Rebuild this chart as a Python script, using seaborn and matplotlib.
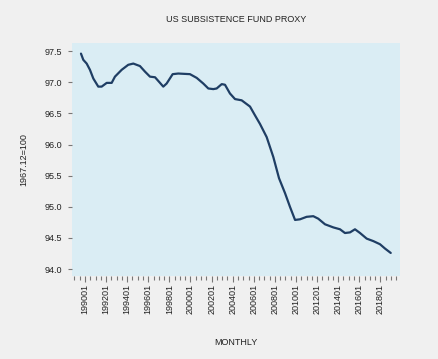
import numpy as np
import pandas as pd
import matplotlib
matplotlib.use("Agg")
import matplotlib.pyplot as plt
import seaborn as sns
from matplotlib.ticker import FixedLocator, MultipleLocator

# Data (fractional year, index value)
years = [1989.62, 1989.84, 1990.16, 1990.47, 1990.79, 1991.26, 1991.58, 1992.06, 1992.53, 1992.84,
         1993.48, 1994.10, 1994.58, 1995.21, 1995.69, 1996.16, 1996.64, 1997.11, 1997.42, 1997.74,
         1998.31, 1998.84, 1999.95, 2000.59, 2001.21, 2001.69, 2002.16, 2002.48, 2002.96, 2003.27,
         2003.74, 2004.22, 2004.85, 2005.64, 2006.11, 2006.59, 2007.22, 2007.85, 2008.39, 2008.96,
         2009.43, 2009.91, 2010.38, 2011.01, 2011.64, 2012.11, 2012.75, 2013.54, 2014.17, 2014.64,
         2015.12, 2015.59, 2016.07, 2016.70, 2017.33, 2017.96, 2018.44, 2018.98]
values = [97.46, 97.36, 97.30, 97.20, 97.06, 96.93, 96.93, 96.99, 96.99, 97.09,
          97.20, 97.28, 97.30, 97.26, 97.17, 97.09, 97.08, 96.99, 96.93, 96.98,
          97.13, 97.14, 97.13, 97.07, 96.98, 96.90, 96.89, 96.90, 96.97, 96.96,
          96.82, 96.73, 96.71, 96.61, 96.47, 96.33, 96.12, 95.80, 95.46, 95.22,
          95.00, 94.79, 94.80, 94.84, 94.85, 94.81, 94.72, 94.67, 94.64, 94.58,
          94.59, 94.64, 94.58, 94.49, 94.45, 94.40, 94.33, 94.26]
xtick_years = [1990, 1992, 1994, 1996, 1998, 2000, 2002, 2004, 2006, 2008,
               2010, 2012, 2014, 2016, 2018]
xtick_labels = ["199001", "199201", "199401", "199601", "199801", "200001", "200201",
                "200401", "200601", "200801", "201001", "201201", "201401", "201601", "201801"]
yticks = [94.0, 94.5, 95.0, 95.5, 96.0, 96.5, 97.0, 97.5]

df = pd.DataFrame({"year": years, "value": values})

sns.set_style("white")
plt.rcParams['font.family'] = ['Liberation Sans', 'DejaVu Sans']
plt.rcParams['xtick.minor.visible'] = True

fig = plt.figure(figsize=(4.38, 3.59), dpi=100, facecolor="#f0f0f0")
ax = fig.add_axes([0.1644, 0.2312, 0.7489, 0.649])
ax.set_facecolor("#daedf4")

sns.lineplot(data=df, x="year", y="value", ax=ax, color="#1f3e64", linewidth=1.6)

ax.set_xlim(1988.77, 2019.86)
ax.set_ylim(93.89, 97.63)
ax.xaxis.set_major_locator(FixedLocator(xtick_years))
ax.set_xticklabels(xtick_labels, rotation=90, fontsize=6.5, color="#222222")
ax.xaxis.set_minor_locator(MultipleLocator(0.5))
ax.set_yticks(yticks)
ax.set_yticklabels([f"{v:.1f}" for v in yticks], fontsize=6.5, color="#222222")

ax.tick_params(axis="x", which="major", bottom=True, length=4, width=0.8,
               color="#777777", direction="out", pad=2)
ax.tick_params(axis="x", which="minor", bottom=True, length=3, width=0.8,
               color="#777777", direction="out")
ax.tick_params(axis="y", which="major", left=True, length=3, width=0.8,
               color="#777777", direction="out", pad=4)
ax.tick_params(axis="y", which="minor", left=False)

for s in ax.spines.values():
    s.set_visible(False)
ax.grid(False)

ax.set_xlabel("MONTHLY", fontsize=6.5, color="#222222", labelpad=17)
ax.set_ylabel("1967.12=100", fontsize=6.5, color="#222222", labelpad=12)
ax.set_title("US SUBSISTENCE FUND PROXY", fontsize=6.5, color="#222222", pad=15)

fig.savefig("out.png", dpi=100, facecolor=fig.get_facecolor())
